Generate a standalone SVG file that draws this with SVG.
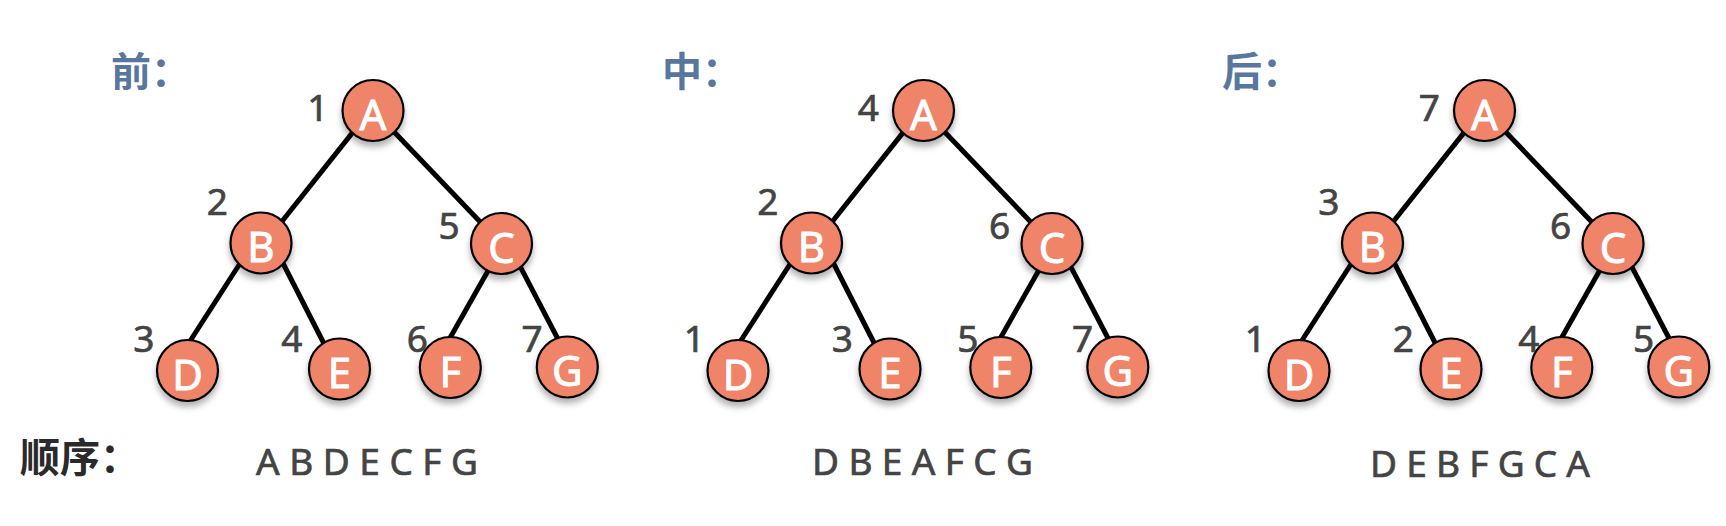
<svg xmlns="http://www.w3.org/2000/svg" width="1726" height="526" viewBox="0 0 1726 526">
<style>
.title{font-family:"Noto Sans CJK SC","Noto Sans",sans-serif;font-weight:700;font-size:40px;fill:#58779e}
.lbl{font-family:"Noto Sans CJK SC","Noto Sans",sans-serif;font-weight:700;font-size:40px;fill:#2a2a2a}
.node circle{fill:#f08468;stroke:#000;stroke-width:2.2;filter:url(#sh)}
.node text{font-family:"Noto Sans","Liberation Sans",sans-serif;font-size:42px;fill:#fff;stroke:#fff;stroke-width:0.9;text-anchor:middle}
.num{font-family:"Noto Sans","Liberation Sans",sans-serif;font-size:37px;fill:#444;stroke:#444;stroke-width:0.7;text-anchor:middle}
.seq{font-family:"Noto Sans","Liberation Sans",sans-serif;font-size:37px;fill:#444;stroke:#444;stroke-width:0.7}
.edge line{stroke:#000;stroke-width:5}
</style>
<defs>
<filter id="sh" x="-30%" y="-30%" width="160%" height="170%">
<feDropShadow dx="0" dy="5" stdDeviation="3" flood-color="#000" flood-opacity="0.3"/>
</filter>
</defs>
<rect width="1726" height="526" fill="#fff"/>
<text class="title" x="111" y="86">前：</text>
<text class="title" x="662" y="86">中：</text>
<text class="title" x="1222" y="86">后：</text>
<text class="lbl" x="20" y="472">顺序：</text>

<g id="connectors">
<g class="edge" transform="translate(373,0)">
<line x1="-17.3" y1="128.6" x2="-93.7" y2="224.7"/>
<line x1="16.9" y1="127.4" x2="111.1" y2="226"/>
<line x1="-130.8" y1="260" x2="-185.5" y2="345"/>
<line x1="-92.7" y1="258" x2="-47.3" y2="347"/>
<line x1="116.6" y1="268.1" x2="74.7" y2="341.9"/>
<line x1="144.5" y1="261.4" x2="189.1" y2="347"/>
</g>
<g class="edge" transform="translate(923.5,0)">
<line x1="-17.3" y1="128.6" x2="-93.7" y2="224.7"/>
<line x1="16.9" y1="127.4" x2="111.1" y2="226"/>
<line x1="-130.8" y1="260" x2="-185.5" y2="345"/>
<line x1="-92.7" y1="258" x2="-47.3" y2="347"/>
<line x1="116.6" y1="268.1" x2="74.7" y2="341.9"/>
<line x1="144.5" y1="261.4" x2="189.1" y2="347"/>
</g>
<g class="edge" transform="translate(1484.5,0)">
<line x1="-17.3" y1="128.6" x2="-93.7" y2="224.7"/>
<line x1="16.9" y1="127.4" x2="111.1" y2="226"/>
<line x1="-130.8" y1="260" x2="-185.5" y2="345"/>
<line x1="-92.7" y1="258" x2="-47.3" y2="347"/>
<line x1="116.6" y1="268.1" x2="74.7" y2="341.9"/>
<line x1="144.5" y1="261.4" x2="189.1" y2="347"/>
</g>
</g>

<g id="tree-pre" transform="translate(373,0)">
<g id="pre-A" class="node"><circle cx="0" cy="110.5" r="30.5"/><text x="0" y="129.5">A</text></g>
<g id="pre-B" class="node"><circle cx="-112" cy="243" r="30.5"/><text x="-112" y="262">B</text></g>
<g id="pre-C" class="node"><circle cx="128.5" cy="243.5" r="30.5"/><text x="128.5" y="262.5">C</text></g>
<g id="pre-D" class="node"><circle cx="-185.5" cy="370.5" r="30.5"/><text x="-185.5" y="389.5">D</text></g>
<g id="pre-E" class="node"><circle cx="-33.5" cy="369" r="30.5"/><text x="-33.5" y="388">E</text></g>
<g id="pre-F" class="node"><circle cx="77.3" cy="367.5" r="30.5"/><text x="77.3" y="386.5">F</text></g>
<g id="pre-G" class="node"><circle cx="194.3" cy="367" r="30.5"/><text x="194.3" y="386">G</text></g>
<text class="num" x="-55.2" y="121">1</text>
<text class="num" x="-155.6" y="215">2</text>
<text class="num" x="76" y="238.5">5</text>
<text class="num" x="-229.2" y="352">3</text>
<text class="num" x="-81.2" y="352">4</text>
<text class="num" x="44.3" y="352">6</text>
<text class="num" x="159.2" y="352">7</text>
</g>
<text class="seq" x="256" y="475" textLength="222" lengthAdjust="spacing">A B D E C F G</text>

<g id="tree-in" transform="translate(923.5,0)">
<g id="in-A" class="node"><circle cx="0" cy="110.5" r="30.5"/><text x="0" y="129.5">A</text></g>
<g id="in-B" class="node"><circle cx="-112" cy="243" r="30.5"/><text x="-112" y="262">B</text></g>
<g id="in-C" class="node"><circle cx="128.5" cy="243.5" r="30.5"/><text x="128.5" y="262.5">C</text></g>
<g id="in-D" class="node"><circle cx="-185.5" cy="370.5" r="30.5"/><text x="-185.5" y="389.5">D</text></g>
<g id="in-E" class="node"><circle cx="-33.5" cy="369" r="30.5"/><text x="-33.5" y="388">E</text></g>
<g id="in-F" class="node"><circle cx="77.3" cy="367.5" r="30.5"/><text x="77.3" y="386.5">F</text></g>
<g id="in-G" class="node"><circle cx="194.3" cy="367" r="30.5"/><text x="194.3" y="386">G</text></g>
<text class="num" x="-55.2" y="121">4</text>
<text class="num" x="-155.6" y="215">2</text>
<text class="num" x="76" y="238.5">6</text>
<text class="num" x="-229.2" y="352">1</text>
<text class="num" x="-81.2" y="352">3</text>
<text class="num" x="44.3" y="352">5</text>
<text class="num" x="159.2" y="352">7</text>
</g>
<text class="seq" x="812" y="475" textLength="221" lengthAdjust="spacing">D B E A F C G</text>

<g id="tree-post" transform="translate(1484.5,0)">
<g id="post-A" class="node"><circle cx="0" cy="110.5" r="30.5"/><text x="0" y="129.5">A</text></g>
<g id="post-B" class="node"><circle cx="-112" cy="243" r="30.5"/><text x="-112" y="262">B</text></g>
<g id="post-C" class="node"><circle cx="128.5" cy="243.5" r="30.5"/><text x="128.5" y="262.5">C</text></g>
<g id="post-D" class="node"><circle cx="-185.5" cy="370.5" r="30.5"/><text x="-185.5" y="389.5">D</text></g>
<g id="post-E" class="node"><circle cx="-33.5" cy="369" r="30.5"/><text x="-33.5" y="388">E</text></g>
<g id="post-F" class="node"><circle cx="77.3" cy="367.5" r="30.5"/><text x="77.3" y="386.5">F</text></g>
<g id="post-G" class="node"><circle cx="194.3" cy="367" r="30.5"/><text x="194.3" y="386">G</text></g>
<text class="num" x="-55.2" y="121">7</text>
<text class="num" x="-155.6" y="215">3</text>
<text class="num" x="76" y="238.5">6</text>
<text class="num" x="-229.2" y="352">1</text>
<text class="num" x="-81.2" y="352">2</text>
<text class="num" x="44.3" y="352">4</text>
<text class="num" x="159.2" y="352">5</text>
</g>
<text class="seq" x="1370" y="477" textLength="220" lengthAdjust="spacing">D E B F G C A</text>
</svg>
